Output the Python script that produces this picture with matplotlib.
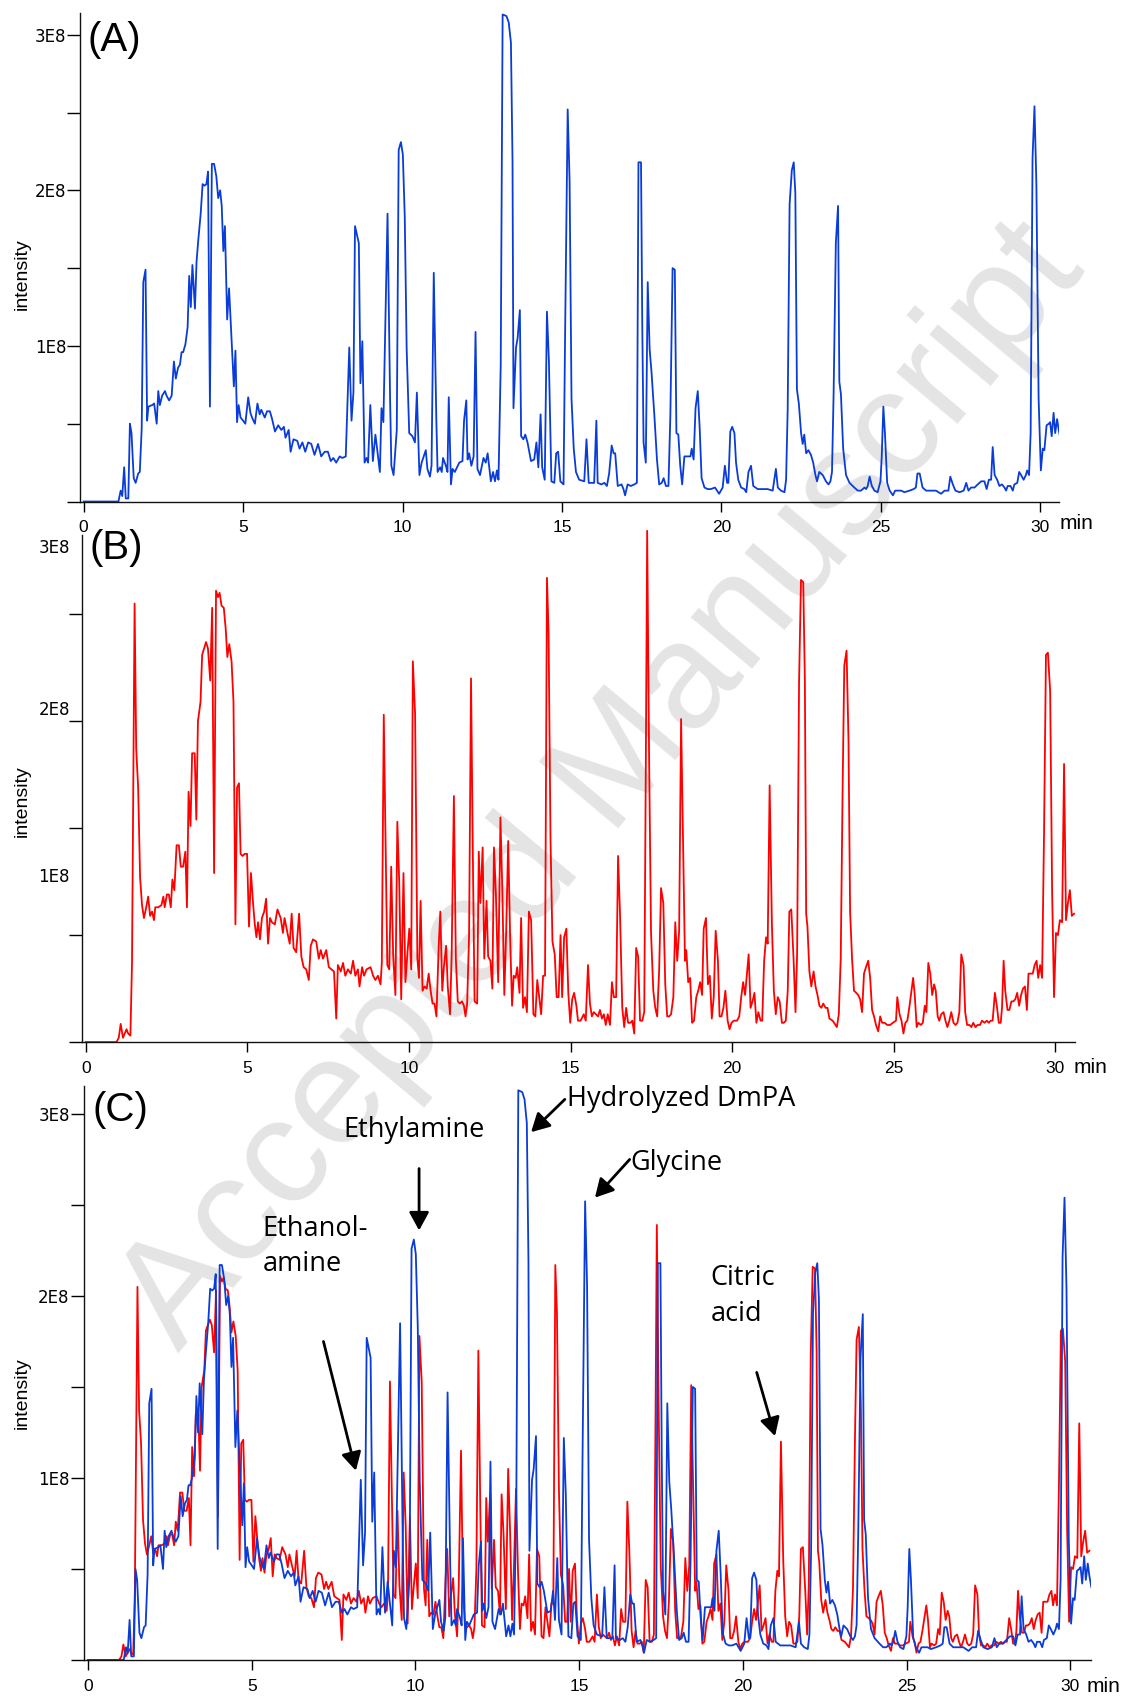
import numpy as np
import matplotlib.pyplot as plt
import matplotlib.transforms as mtransforms

# retention time (min) and intensity (x1E8)
# blue trace: panel (A), overlaid again in panel (C)
blue_time = [
    0.00, 1.09, 1.16, 1.21, 1.27, 1.32, 1.40, 1.45, 1.50, 1.57,
    1.63, 1.71, 1.76, 1.82, 1.87, 1.94, 1.99, 2.03, 2.15, 2.21,
    2.29, 2.34, 2.39, 2.46, 2.55, 2.60, 2.68, 2.76, 2.83, 2.89,
    2.96, 3.02, 3.07, 3.12, 3.19, 3.26, 3.31, 3.36, 3.41, 3.49,
    3.54, 3.59, 3.67, 3.73, 3.79, 3.85, 3.90, 3.96, 4.02, 4.09,
    4.16, 4.22, 4.28, 4.33, 4.38, 4.43, 4.50, 4.56, 4.63, 4.71,
    4.76, 4.81, 4.86, 4.92, 5.00, 5.07, 5.16, 5.23, 5.28, 5.37,
    5.45, 5.52, 5.57, 5.68, 5.75, 5.84, 5.91, 6.00, 6.10, 6.20,
    6.28, 6.33, 6.43, 6.49, 6.58, 6.70, 6.77, 6.86, 6.95, 7.04,
    7.14, 7.24, 7.35, 7.45, 7.56, 7.66, 7.75, 7.83, 7.92, 8.03,
    8.11, 8.22, 8.33, 8.40, 8.46, 8.51, 8.63, 8.68, 8.74, 8.81,
    8.87, 8.92, 8.99, 9.07, 9.15, 9.29, 9.34, 9.40, 9.53, 9.61,
    9.65, 9.72, 9.82, 9.88, 9.95, 10.01, 10.07, 10.13, 10.21, 10.31,
    10.39, 10.45, 10.53, 10.60, 10.73, 10.78, 10.86, 10.91, 10.98, 11.06,
    11.10, 11.18, 11.23, 11.27, 11.36, 11.41, 11.45, 11.52, 11.57, 11.64,
    11.78, 11.88, 11.93, 12.00, 12.04, 12.09, 12.16, 12.23, 12.29, 12.35,
    12.43, 12.54, 12.61, 12.67, 12.77, 12.84, 12.90, 12.96, 13.01, 13.08,
    13.14, 13.26, 13.33, 13.40, 13.45, 13.48, 13.56, 13.61, 13.68, 13.72,
    13.79, 13.85, 13.92, 14.03, 14.13, 14.20, 14.26, 14.33, 14.38, 14.46,
    14.53, 14.59, 14.67, 14.76, 14.82, 14.88, 14.95, 15.05, 15.10, 15.18,
    15.24, 15.30, 15.37, 15.44, 15.54, 15.70, 15.77, 15.84, 16.01, 16.08,
    16.12, 16.24, 16.33, 16.41, 16.48, 16.56, 16.62, 16.67, 16.75, 16.87,
    16.93, 16.98, 17.06, 17.16, 17.27, 17.35, 17.40, 17.48, 17.52, 17.56,
    17.63, 17.69, 17.75, 17.81, 17.90, 17.98, 18.05, 18.13, 18.19, 18.26,
    18.34, 18.40, 18.47, 18.54, 18.59, 18.65, 18.71, 18.77, 18.84, 18.94,
    19.03, 19.07, 19.13, 19.19, 19.26, 19.32, 19.38, 19.47, 19.57, 19.67,
    19.80, 19.93, 20.04, 20.11, 20.18, 20.22, 20.28, 20.34, 20.41, 20.46,
    20.53, 20.62, 20.72, 20.78, 20.85, 20.93, 21.00, 21.14, 21.24, 21.45,
    21.61, 21.66, 21.71, 21.77, 21.87, 21.98, 22.03, 22.08, 22.14, 22.21,
    22.27, 22.32, 22.37, 22.43, 22.50, 22.55, 22.60, 22.66, 22.73, 22.81,
    22.88, 22.95, 23.00, 23.07, 23.18, 23.28, 23.36, 23.42, 23.47, 23.52,
    23.59, 23.66, 23.70, 23.75, 23.82, 23.91, 24.02, 24.17, 24.28, 24.38,
    24.49, 24.54, 24.59, 24.65, 24.72, 24.80, 24.90, 24.99, 25.03, 25.08,
    25.13, 25.20, 25.28, 25.38, 25.45, 25.64, 25.74, 25.90, 26.03, 26.10,
    26.15, 26.22, 26.31, 26.42, 26.58, 26.73, 26.89, 27.00, 27.12, 27.18,
    27.26, 27.34, 27.47, 27.60, 27.68, 27.75, 27.83, 27.94, 28.04, 28.15,
    28.25, 28.32, 28.39, 28.46, 28.51, 28.57, 28.65, 28.72, 28.80, 28.88,
    28.93, 28.98, 29.07, 29.14, 29.19, 29.28, 29.34, 29.40, 29.48, 29.55,
    29.59, 29.65, 29.70, 29.76, 29.82, 29.88, 29.95, 30.02, 30.08, 30.13,
    30.20, 30.27, 30.31, 30.36, 30.42, 30.47, 30.53, 30.58, 30.64,
]
blue_int = [
    0, 0, 0.07, 0.035, 0.22, 0.02, 0.02, 0.50, 0.44, 0.15,
    0.12, 0.18, 0.19, 0.47, 1.41, 1.49, 0.52, 0.61, 0.62, 0.63,
    0.50, 0.71, 0.62, 0.68, 0.71, 0.68, 0.65, 0.68, 0.90, 0.79,
    0.86, 0.88, 0.96, 0.96, 1.01, 1.12, 1.45, 1.25, 1.52, 1.24,
    1.54, 1.67, 1.85, 2.04, 2.03, 2.04, 2.12, 0.61, 2.17, 2.17,
    2.09, 1.95, 2.00, 1.90, 1.61, 1.77, 1.17, 1.37, 1.07, 0.74,
    0.97, 0.51, 0.62, 0.54, 0.52, 0.50, 0.67, 0.57, 0.54, 0.50,
    0.63, 0.56, 0.59, 0.54, 0.58, 0.58, 0.53, 0.45, 0.49, 0.46,
    0.48, 0.41, 0.46, 0.32, 0.40, 0.39, 0.34, 0.38, 0.32, 0.38,
    0.37, 0.30, 0.37, 0.29, 0.32, 0.32, 0.26, 0.28, 0.25, 0.29,
    0.28, 0.29, 0.99, 0.52, 0.70, 1.77, 1.66, 0.76, 1.03, 0.25,
    0.28, 0.25, 0.62, 0.26, 0.43, 0.19, 0.60, 0.51, 1.85, 0.66,
    0.23, 0.17, 0.46, 2.26, 2.31, 2.23, 1.83, 0.98, 0.44, 0.42,
    0.38, 0.70, 0.17, 0.25, 0.33, 0.21, 0.16, 0.23, 1.47, 0.53,
    0.19, 0.22, 0.19, 0.28, 0.23, 0.19, 0.67, 0.11, 0.21, 0.19,
    0.25, 0.26, 0.52, 0.65, 0.27, 0.31, 0.23, 0.29, 1.09, 0.21,
    0.17, 0.28, 0.25, 0.31, 0.13, 0.19, 0.13, 0.20, 0.14, 0.88,
    3.13, 3.12, 3.08, 2.95, 2.19, 0.60, 0.99, 1.05, 1.23, 0.42,
    0.40, 0.43, 0.38, 0.26, 0.27, 0.38, 0.22, 0.56, 0.22, 0.14,
    1.22, 0.91, 0.13, 0.12, 0.31, 0.32, 0.13, 0.11, 1.09, 2.52,
    2.06, 0.66, 0.34, 0.19, 0.14, 0.13, 0.40, 0.12, 0.12, 0.52,
    0.12, 0.11, 0.12, 0.10, 0.18, 0.36, 0.31, 0.31, 0.10, 0.11,
    0.08, 0.04, 0.11, 0.10, 0.11, 0.12, 2.18, 2.18, 1.12, 0.38,
    0.25, 1.41, 0.98, 0.83, 0.55, 0.27, 0.11, 0.12, 0.15, 0.10,
    0.10, 0.55, 1.50, 1.49, 0.44, 0.43, 0.23, 0.11, 0.29, 0.29,
    0.29, 0.34, 0.27, 0.60, 0.71, 0.47, 0.15, 0.09, 0.08, 0.08,
    0.09, 0.05, 0.09, 0.23, 0.12, 0.12, 0.45, 0.48, 0.44, 0.25,
    0.14, 0.09, 0.08, 0.06, 0.19, 0.23, 0.10, 0.08, 0.08, 0.08,
    0.07, 0.14, 0.21, 0.09, 0.07, 0.06, 0.14, 0.59, 1.91, 2.13,
    2.18, 1.98, 0.72, 0.63, 0.44, 0.37, 0.43, 0.31, 0.33, 0.30,
    0.25, 0.17, 0.13, 0.19, 0.17, 0.13, 0.11, 0.13, 0.19, 0.69,
    1.66, 1.90, 0.77, 0.69, 0.34, 0.17, 0.12, 0.09, 0.07, 0.07,
    0.09, 0.08, 0.10, 0.16, 0.10, 0.07, 0.06, 0.13, 0.29, 0.61,
    0.44, 0.12, 0.07, 0.04, 0.07, 0.07, 0.06, 0.07, 0.08, 0.09,
    0.18, 0.18, 0.09, 0.07, 0.07, 0.07, 0.05, 0.07, 0.07, 0.16,
    0.11, 0.07, 0.06, 0.07, 0.12, 0.07, 0.09, 0.09, 0.11, 0.13,
    0.13, 0.08, 0.14, 0.14, 0.35, 0.17, 0.14, 0.10, 0.11, 0.09,
    0.07, 0.10, 0.10, 0.07, 0.11, 0.12, 0.19, 0.17, 0.14, 0.17,
    0.20, 0.17, 0.44, 2.21, 2.54, 2.04, 0.66, 0.20, 0.34, 0.33,
    0.49, 0.50, 0.51, 0.42, 0.57, 0.44, 0.53, 0.46, 0.40,
]

# red trace: panel (B), overlaid again in panel (C)
red_time = [
    0.00, 0.95, 1.02, 1.08, 1.15, 1.26, 1.31, 1.38, 1.43, 1.51,
    1.56, 1.62, 1.68, 1.74, 1.80, 1.87, 1.93, 1.99, 2.05, 2.11,
    2.15, 2.24, 2.34, 2.40, 2.44, 2.51, 2.57, 2.63, 2.68, 2.74,
    2.81, 2.88, 2.94, 3.01, 3.08, 3.13, 3.18, 3.24, 3.29, 3.37,
    3.42, 3.47, 3.55, 3.60, 3.66, 3.72, 3.78, 3.85, 3.91, 3.97,
    4.03, 4.09, 4.14, 4.20, 4.27, 4.33, 4.38, 4.44, 4.51, 4.57,
    4.63, 4.68, 4.74, 4.79, 4.85, 4.92, 4.99, 5.05, 5.11, 5.18,
    5.23, 5.28, 5.33, 5.39, 5.45, 5.52, 5.58, 5.64, 5.70, 5.76,
    5.85, 5.93, 6.03, 6.10, 6.15, 6.24, 6.31, 6.37, 6.43, 6.51,
    6.60, 6.67, 6.74, 6.82, 6.90, 6.96, 7.03, 7.13, 7.21, 7.27,
    7.34, 7.44, 7.52, 7.60, 7.68, 7.75, 7.80, 7.89, 7.96, 8.03,
    8.11, 8.20, 8.27, 8.34, 8.42, 8.47, 8.55, 8.61, 8.69, 8.81,
    8.89, 8.96, 9.04, 9.12, 9.16, 9.22, 9.27, 9.33, 9.39, 9.45,
    9.51, 9.58, 9.64, 9.70, 9.76, 9.83, 9.89, 9.95, 10.01, 10.07,
    10.12, 10.19, 10.26, 10.31, 10.36, 10.42, 10.48, 10.55, 10.61, 10.67,
    10.73, 10.79, 10.85, 10.92, 10.97, 11.03, 11.08, 11.15, 11.20, 11.27,
    11.32, 11.39, 11.45, 11.51, 11.57, 11.64, 11.70, 11.75, 11.80, 11.86,
    11.92, 11.98, 12.03, 12.11, 12.16, 12.21, 12.28, 12.33, 12.40, 12.45,
    12.52, 12.58, 12.63, 12.69, 12.76, 12.83, 12.89, 12.95, 13.01, 13.07,
    13.13, 13.19, 13.24, 13.30, 13.35, 13.42, 13.47, 13.53, 13.59, 13.65,
    13.71, 13.78, 13.85, 13.91, 13.97, 14.03, 14.09, 14.15, 14.21, 14.27,
    14.32, 14.38, 14.44, 14.51, 14.57, 14.63, 14.69, 14.74, 14.80, 14.87,
    14.93, 14.99, 15.05, 15.11, 15.18, 15.23, 15.31, 15.41, 15.47, 15.54,
    15.60, 15.66, 15.72, 15.78, 15.85, 15.91, 15.97, 16.03, 16.09, 16.15,
    16.22, 16.28, 16.34, 16.41, 16.47, 16.53, 16.60, 16.66, 16.72, 16.78,
    16.85, 16.91, 16.97, 17.03, 17.09, 17.15, 17.22, 17.28, 17.33, 17.37,
    17.43, 17.49, 17.56, 17.62, 17.68, 17.74, 17.80, 17.87, 17.93, 17.99,
    18.05, 18.11, 18.18, 18.24, 18.30, 18.36, 18.42, 18.48, 18.54, 18.58,
    18.64, 18.70, 18.76, 18.82, 18.89, 18.95, 19.01, 19.07, 19.12, 19.19,
    19.25, 19.31, 19.37, 19.43, 19.49, 19.56, 19.61, 19.67, 19.73, 19.79,
    19.86, 19.92, 19.98, 20.05, 20.15, 20.22, 20.28, 20.34, 20.40, 20.51,
    20.57, 20.63, 20.69, 20.75, 20.81, 20.88, 20.93, 20.99, 21.05, 21.10,
    21.16, 21.23, 21.29, 21.35, 21.41, 21.47, 21.54, 21.60, 21.66, 21.72,
    21.77, 21.83, 21.90, 21.96, 22.01, 22.07, 22.13, 22.20, 22.25, 22.29,
    22.33, 22.39, 22.45, 22.52, 22.58, 22.64, 22.70, 22.76, 22.82, 22.89,
    22.95, 23.01, 23.11, 23.24, 23.30, 23.36, 23.42, 23.47, 23.54, 23.60,
    23.65, 23.71, 23.77, 23.84, 23.90, 23.96, 24.02, 24.08, 24.14, 24.21,
    24.27, 24.33, 24.39, 24.45, 24.52, 24.58, 24.64, 24.72, 24.80, 24.89,
    24.97, 25.07, 25.11, 25.18, 25.24, 25.30, 25.36, 25.42, 25.48, 25.55,
    25.60, 25.65, 25.71, 25.76, 25.84, 25.90, 25.96, 26.01, 26.07, 26.13,
    26.19, 26.25, 26.30, 26.36, 26.41, 26.47, 26.54, 26.60, 26.66, 26.72,
    26.78, 26.85, 26.91, 26.97, 27.03, 27.09, 27.16, 27.21, 27.27, 27.34,
    27.40, 27.46, 27.53, 27.59, 27.67, 27.73, 27.81, 27.88, 27.94, 28.00,
    28.06, 28.13, 28.19, 28.25, 28.31, 28.35, 28.40, 28.45, 28.52, 28.58,
    28.64, 28.70, 28.76, 28.82, 28.88, 28.94, 29.00, 29.06, 29.12, 29.17,
    29.23, 29.30, 29.36, 29.42, 29.47, 29.53, 29.59, 29.65, 29.71, 29.77,
    29.84, 29.90, 29.96, 30.02, 30.08, 30.14, 30.21, 30.27, 30.33, 30.39,
    30.45, 30.51, 30.58,
]
red_int = [
    0, 0, 0.02, 0.085, 0.02, 0.06, 0.04, 0.03, 0.37, 2.05,
    1.37, 1.19, 0.77, 0.64, 0.58, 0.63, 0.68, 0.59, 0.61, 0.57,
    0.63, 0.63, 0.64, 0.68, 0.63, 0.69, 0.69, 0.63, 0.76, 0.71,
    0.92, 0.92, 0.82, 0.82, 0.89, 0.63, 1.17, 1.01, 1.35, 1.35,
    1.04, 1.50, 1.59, 1.81, 1.84, 1.87, 1.84, 1.69, 2.03, 0.79,
    2.11, 2.08, 2.10, 2.04, 2.03, 1.93, 1.80, 1.86, 1.78, 1.59,
    0.55, 1.19, 1.21, 0.88, 0.87, 0.88, 0.88, 0.54, 0.79, 0.64,
    0.55, 0.49, 0.56, 0.48, 0.58, 0.61, 0.67, 0.46, 0.58, 0.56,
    0.55, 0.62, 0.58, 0.51, 0.58, 0.51, 0.46, 0.60, 0.44, 0.42,
    0.60, 0.40, 0.35, 0.34, 0.29, 0.45, 0.48, 0.47, 0.39, 0.43,
    0.39, 0.43, 0.35, 0.34, 0.33, 0.11, 0.36, 0.33, 0.37, 0.31,
    0.34, 0.32, 0.38, 0.31, 0.34, 0.26, 0.35, 0.31, 0.34, 0.35,
    0.31, 0.29, 0.31, 0.27, 0.37, 1.53, 1.00, 0.36, 0.34, 0.82,
    0.41, 0.22, 1.03, 0.74, 0.20, 0.79, 0.28, 0.41, 0.53, 0.34,
    1.78, 1.53, 0.39, 0.30, 0.66, 0.24, 0.26, 0.25, 0.32, 0.24,
    0.18, 0.18, 0.12, 0.45, 0.61, 0.24, 0.35, 0.45, 0.26, 0.13,
    0.40, 1.15, 0.39, 0.19, 0.18, 0.19, 0.17, 0.12, 0.18, 0.50,
    1.70, 0.82, 0.19, 0.18, 0.89, 0.65, 0.91, 0.39, 0.66, 0.40,
    0.38, 0.25, 0.91, 0.69, 0.28, 1.05, 0.70, 0.22, 0.53, 0.94,
    0.49, 0.17, 0.31, 0.30, 0.35, 0.23, 0.58, 0.16, 0.21, 0.14,
    0.61, 0.57, 0.13, 0.12, 0.29, 0.21, 0.13, 0.31, 0.31, 2.17,
    1.91, 0.94, 0.47, 0.41, 0.21, 0.21, 0.50, 0.21, 0.49, 0.53,
    0.23, 0.09, 0.20, 0.23, 0.17, 0.10, 0.10, 0.13, 0.10, 0.36,
    0.18, 0.12, 0.14, 0.13, 0.12, 0.15, 0.11, 0.13, 0.08, 0.13,
    0.08, 0.28, 0.21, 0.21, 0.87, 0.60, 0.16, 0.07, 0.16, 0.09,
    0.09, 0.10, 0.04, 0.44, 0.40, 0.10, 0.10, 0.14, 1.33, 2.39,
    1.33, 0.51, 0.24, 0.16, 0.12, 0.33, 0.72, 0.65, 0.27, 0.12,
    0.12, 0.13, 0.21, 0.56, 0.38, 0.52, 1.51, 0.96, 0.38, 0.43,
    0.28, 0.30, 0.09, 0.10, 0.21, 0.24, 0.28, 0.22, 0.53, 0.58,
    0.27, 0.31, 0.11, 0.21, 0.52, 0.38, 0.12, 0.12, 0.16, 0.24,
    0.10, 0.06, 0.09, 0.10, 0.10, 0.12, 0.21, 0.28, 0.22, 0.41,
    0.16, 0.19, 0.23, 0.09, 0.14, 0.10, 0.10, 0.38, 0.49, 0.46,
    1.20, 0.55, 0.24, 0.13, 0.21, 0.19, 0.09, 0.09, 0.10, 0.24,
    0.61, 0.62, 0.39, 0.14, 0.41, 1.68, 2.16, 2.15, 1.69, 0.60,
    0.54, 0.33, 0.26, 0.33, 0.26, 0.22, 0.17, 0.16, 0.18, 0.16,
    0.16, 0.11, 0.10, 0.07, 0.13, 0.39, 1.21, 1.76, 1.83, 1.41,
    0.61, 0.39, 0.24, 0.23, 0.22, 0.20, 0.14, 0.32, 0.35, 0.38,
    0.30, 0.15, 0.12, 0.08, 0.05, 0.12, 0.09, 0.09, 0.08, 0.08,
    0.09, 0.10, 0.21, 0.13, 0.10, 0.04, 0.09, 0.10, 0.16, 0.24,
    0.30, 0.22, 0.07, 0.09, 0.08, 0.09, 0.17, 0.14, 0.37, 0.32,
    0.22, 0.27, 0.24, 0.12, 0.10, 0.13, 0.14, 0.10, 0.07, 0.10,
    0.14, 0.09, 0.08, 0.09, 0.14, 0.41, 0.36, 0.14, 0.08, 0.08,
    0.07, 0.09, 0.07, 0.08, 0.08, 0.10, 0.09, 0.10, 0.09, 0.10,
    0.10, 0.23, 0.17, 0.09, 0.09, 0.16, 0.38, 0.24, 0.15, 0.15,
    0.19, 0.19, 0.20, 0.23, 0.17, 0.22, 0.25, 0.26, 0.15, 0.32,
    0.32, 0.32, 0.36, 0.38, 0.30, 0.36, 0.30, 0.97, 1.81, 1.82,
    1.64, 0.71, 0.21, 0.51, 0.50, 0.57, 0.56, 1.30, 0.57, 0.65,
    0.71, 0.59, 0.60,
]

x_ticks = [0, 5, 10, 15, 20, 25, 30]
y_tick_text = ['1E8', '2E8', '3E8']

# compound labels for panel (C)
peak_names = ['Hydrolyzed DmPA', 'Ethylamine', 'Ethanol-\namine', 'Glycine', 'Citric\nacid']

BLUE = '#0a3cd8'
RED = '#ff0000'
TICK_FONT = 'Liberation Sans'
YLAB_SIZE = 12

plt.rcParams['font.family'] = ['Liberation Sans', 'DejaVu Sans']

fig = plt.figure(figsize=(11.27, 17.03), dpi=100)

# watermark behind everything
fig.text(0.535, 0.538, 'Accepted Manuscript', rotation=50, rotation_mode='anchor',
         ha='center', va='center', fontsize=109, color='#e4e4e4', zorder=-5,
         family='Liberation Sans')

ax_a = fig.add_axes([0.0713, 0.7055, 0.8681, 0.2869])
ax_b = fig.add_axes([0.0732, 0.3881, 0.8807, 0.2977])
ax_c = fig.add_axes([0.0742, 0.02525, 0.8939, 0.3371])


def style_axis(ax, xlim, ylim, yticks):
    ax.set_facecolor('none')
    ax.set_xlim(*xlim)
    ax.set_ylim(*ylim)
    for s in ['top', 'right']:
        ax.spines[s].set_visible(False)
    for s in ['left', 'bottom']:
        ax.spines[s].set_linewidth(1.0)
        ax.spines[s].set_color('#111111')
    ax.set_xticks(x_ticks)
    ax.set_xticklabels([str(t) for t in x_ticks], fontsize=12.5, family=TICK_FONT)
    ax.tick_params(axis='x', direction='out', length=7.5, width=1.0, pad=6)
    ax.set_yticks(yticks)
    ax.tick_params(axis='y', direction='out', length=9.5, width=1.0, pad=0.5)


# (A)
ax_a.plot(blue_time, blue_int, color=BLUE, lw=1.3)
style_axis(ax_a, (-0.104, 30.58), (0, 3.14), np.arange(0, 3.01, 0.5))
ax_a.set_yticklabels(['', '', '1E8', '', '2E8', '', '3E8'], fontsize=YLAB_SIZE, family='DejaVu Sans')
ax_a.text(30.6, -0.14, 'min', fontsize=15, ha='left', va='center', clip_on=False)

# (B) - tick marks every 0.5E8, the printed labels sit off the marks as in the source
ax_b.plot(red_time, red_int, color=RED, lw=1.3, clip_on=False)
style_axis(ax_b, (-0.102, 30.61), (0, 2.37), np.arange(0, 2.01, 0.5))
ax_b.set_yticklabels([])
trans = mtransforms.blended_transform_factory(ax_b.transAxes, ax_b.transData)
for lab, pos in zip(y_tick_text, [0.77, 1.55, 2.31]):
    ax_b.text(-0.0125, pos, lab, transform=trans, ha='right', va='center',
              fontsize=YLAB_SIZE, family='DejaVu Sans')
ax_b.text(30.56, -0.117, 'min', fontsize=15, ha='left', va='center', clip_on=False)

# (C) overlay
ax_c.plot(red_time, red_int, color=RED, lw=1.3)
ax_c.plot(blue_time, blue_int, color=BLUE, lw=1.3)
style_axis(ax_c, (-0.134, 30.63), (0, 3.154), np.arange(0, 3.01, 0.5))
ax_c.set_yticklabels(['', '', '1E8', '', '2E8', '', '3E8'], fontsize=YLAB_SIZE, family='DejaVu Sans')
ax_c.text(30.48, -0.143, 'min', fontsize=15, ha='left', va='center', clip_on=False)

label_xy = [(14.63, 3.08), (9.97, 2.91), (5.33, 2.27), (16.57, 2.73), (19.02, 2.00)]
label_ha = ['left', 'center', 'left', 'left', 'left']
arrow_tail = [(14.56, 3.08), (10.11, 2.70), (7.19, 1.75), (16.54, 2.75), (20.42, 1.58)]
arrow_tip = [(13.53, 2.90), (10.11, 2.36), (8.18, 1.04), (15.48, 2.54), (20.98, 1.23)]
for name, xy, ha, tail, tip in zip(peak_names, label_xy, label_ha, arrow_tail, arrow_tip):
    ax_c.text(xy[0], xy[1], name, ha=ha, va='center', fontsize=19.5,
              family=['Open Sans', 'DejaVu Sans'], linespacing=1.35)
    ax_c.annotate('', xy=tip, xytext=tail,
                  arrowprops=dict(arrowstyle='-|>,head_length=0.55,head_width=0.3',
                                  lw=2.0, color='black', mutation_scale=20,
                                  shrinkA=0, shrinkB=0))

# panel letters and axis titles
for letter, (x, y) in zip(['(A)', '(B)', '(C)'], [(0.078, 0.9765), (0.079, 0.678), (0.082, 0.348)]):
    fig.text(x, y, letter, fontsize=29, ha='left', va='center')
for y in [0.8393, 0.5297, 0.182]:
    fig.text(0.0193, y, 'intensity', rotation=90, ha='center', va='center', fontsize=14,
             family=['Liberation Sans Narrow', 'Liberation Sans'])

fig.savefig('out.png', dpi=100)
